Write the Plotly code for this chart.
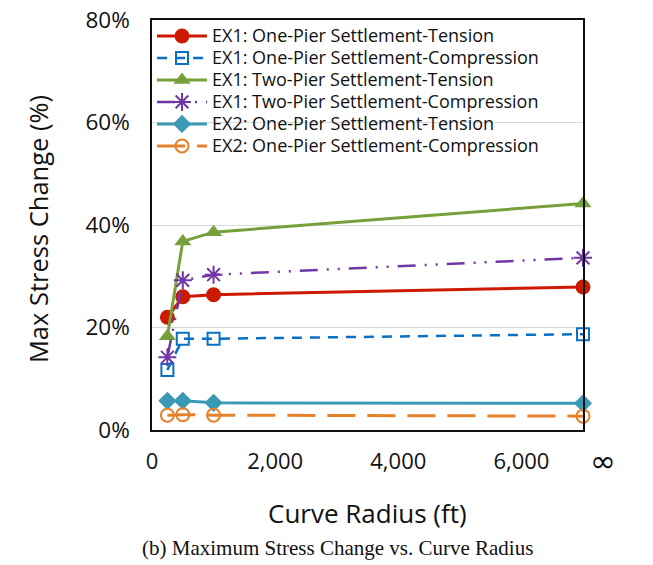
import plotly.graph_objects as go

radius = [250, 500, 1000, 7000]  # 7000 plotted position stands for infinity
ex1_one_tension = [22.0, 26.0, 26.4, 27.9]
ex1_one_compression = [11.7, 17.8, 17.8, 18.7]
ex1_two_tension = [18.3, 36.8, 38.6, 44.2]
ex1_two_compression = [14.2, 29.2, 30.3, 33.6]
ex2_one_tension = [5.7, 5.7, 5.3, 5.2]
ex2_one_compression = [2.9, 3.0, 2.9, 2.7]

x_ticks = [0, 2000, 4000, 6000]
y_ticks = [0, 20, 40, 60, 80]

series = [
    ("EX1: One-Pier Settlement-Tension", ex1_one_tension, "#cc1a00", "solid", 3, "circle", 15),
    ("EX1: One-Pier Settlement-Compression", ex1_one_compression, "#0a70c4", "10px,8px", 2.5, "square-open", 12),
    ("EX1: Two-Pier Settlement-Tension", ex1_two_tension, "#77a03a", "solid", 3, "triangle-up", 15),
    ("EX1: Two-Pier Settlement-Compression", ex1_two_compression, "#7136a8", "18px,9px,2px,9px,2px,9px", 2.5, "asterisk-open", 15),
    ("EX2: One-Pier Settlement-Tension", ex2_one_tension, "#3a9ab5", "solid", 3, "diamond", 14),
    ("EX2: One-Pier Settlement-Compression", ex2_one_compression, "#e5822a", "28px,12px", 3, "circle-open", 13),
]

fig = go.Figure()
for name, vals, color, dash, w, sym, size in series:
    fig.add_trace(go.Scatter(
        x=radius, y=[v / 100 for v in vals],
        name='<span style="font-size:18px">' + name + "</span>",
        mode="lines+markers",
        line=dict(color=color, dash=dash, width=w),
        marker=dict(symbol=sym, size=size, color=color,
                    line=dict(color=color, width=2 if "open" in sym else 0)),
        cliponaxis=False,
    ))

font_main = "'Open Sans', Lato, sans-serif"

# page body has an 8px offset, so margins are shifted by 8px
fig.update_layout(
    width=653, height=565,
    margin=dict(l=144, r=78, t=12, b=143, autoexpand=False),
    paper_bgcolor="white", plot_bgcolor="white",
    font=dict(family=font_main, color="#111111"),
    showlegend=True,
    legend=dict(x=0.0, y=1.0, xanchor="left", yanchor="top",
                bgcolor="rgba(0,0,0,0)", borderwidth=0,
                font=dict(size=14.6, family=font_main, color="#111111"),
                tracegroupgap=0, itemwidth=50),
    xaxis=dict(range=[0, 7000], tickvals=x_ticks, tickformat=",", automargin=False,
               showgrid=False, zeroline=False, showline=True, mirror=True,
               linecolor="#111111", linewidth=1.5, ticks="",
               tickfont=dict(size=22, family=font_main), ticklabelstandoff=11),
    yaxis=dict(range=[0, 0.8], tickvals=[t / 100 for t in y_ticks], tickformat=".0%",
               automargin=False, ticklabeloverflow="allow",
               showgrid=True, gridcolor="#d9d9d9", gridwidth=1, zeroline=False,
               showline=True, mirror=True, linecolor="#111111", linewidth=1.5, ticks="",
               tickfont=dict(size=22.5, family=font_main), ticklabelstandoff=16),
    annotations=[
        dict(x=7000, y=0, xref="x", yref="y", text="∞", showarrow=False,
             xanchor="center", yanchor="middle", xshift=20, yshift=-31,
             font=dict(size=31, family="DejaVu Sans", color="#111111")),
        dict(x=0.5, y=-83 / 410, xref="paper", yref="paper", text="Curve Radius (ft)",
             showarrow=False, xanchor="center", yanchor="middle",
             font=dict(size=26, family=font_main, color="#111111")),
        dict(x=-114 / 431, y=0.49, xref="paper", yref="paper", text="Max Stress Change (%)",
             showarrow=False, xanchor="center", yanchor="middle", textangle=-90,
             font=dict(size=25.5, family=font_main, color="#111111")),
        dict(x=(337 - 152) / 431, y=(430 - 548) / 410, xref="paper", yref="paper",
             text="(b) Maximum Stress Change vs. Curve Radius",
             showarrow=False, xanchor="center", yanchor="middle",
             font=dict(size=21, family="Liberation Serif, serif", color="#111111")),
    ],
)

fig.write_html("out.html")
